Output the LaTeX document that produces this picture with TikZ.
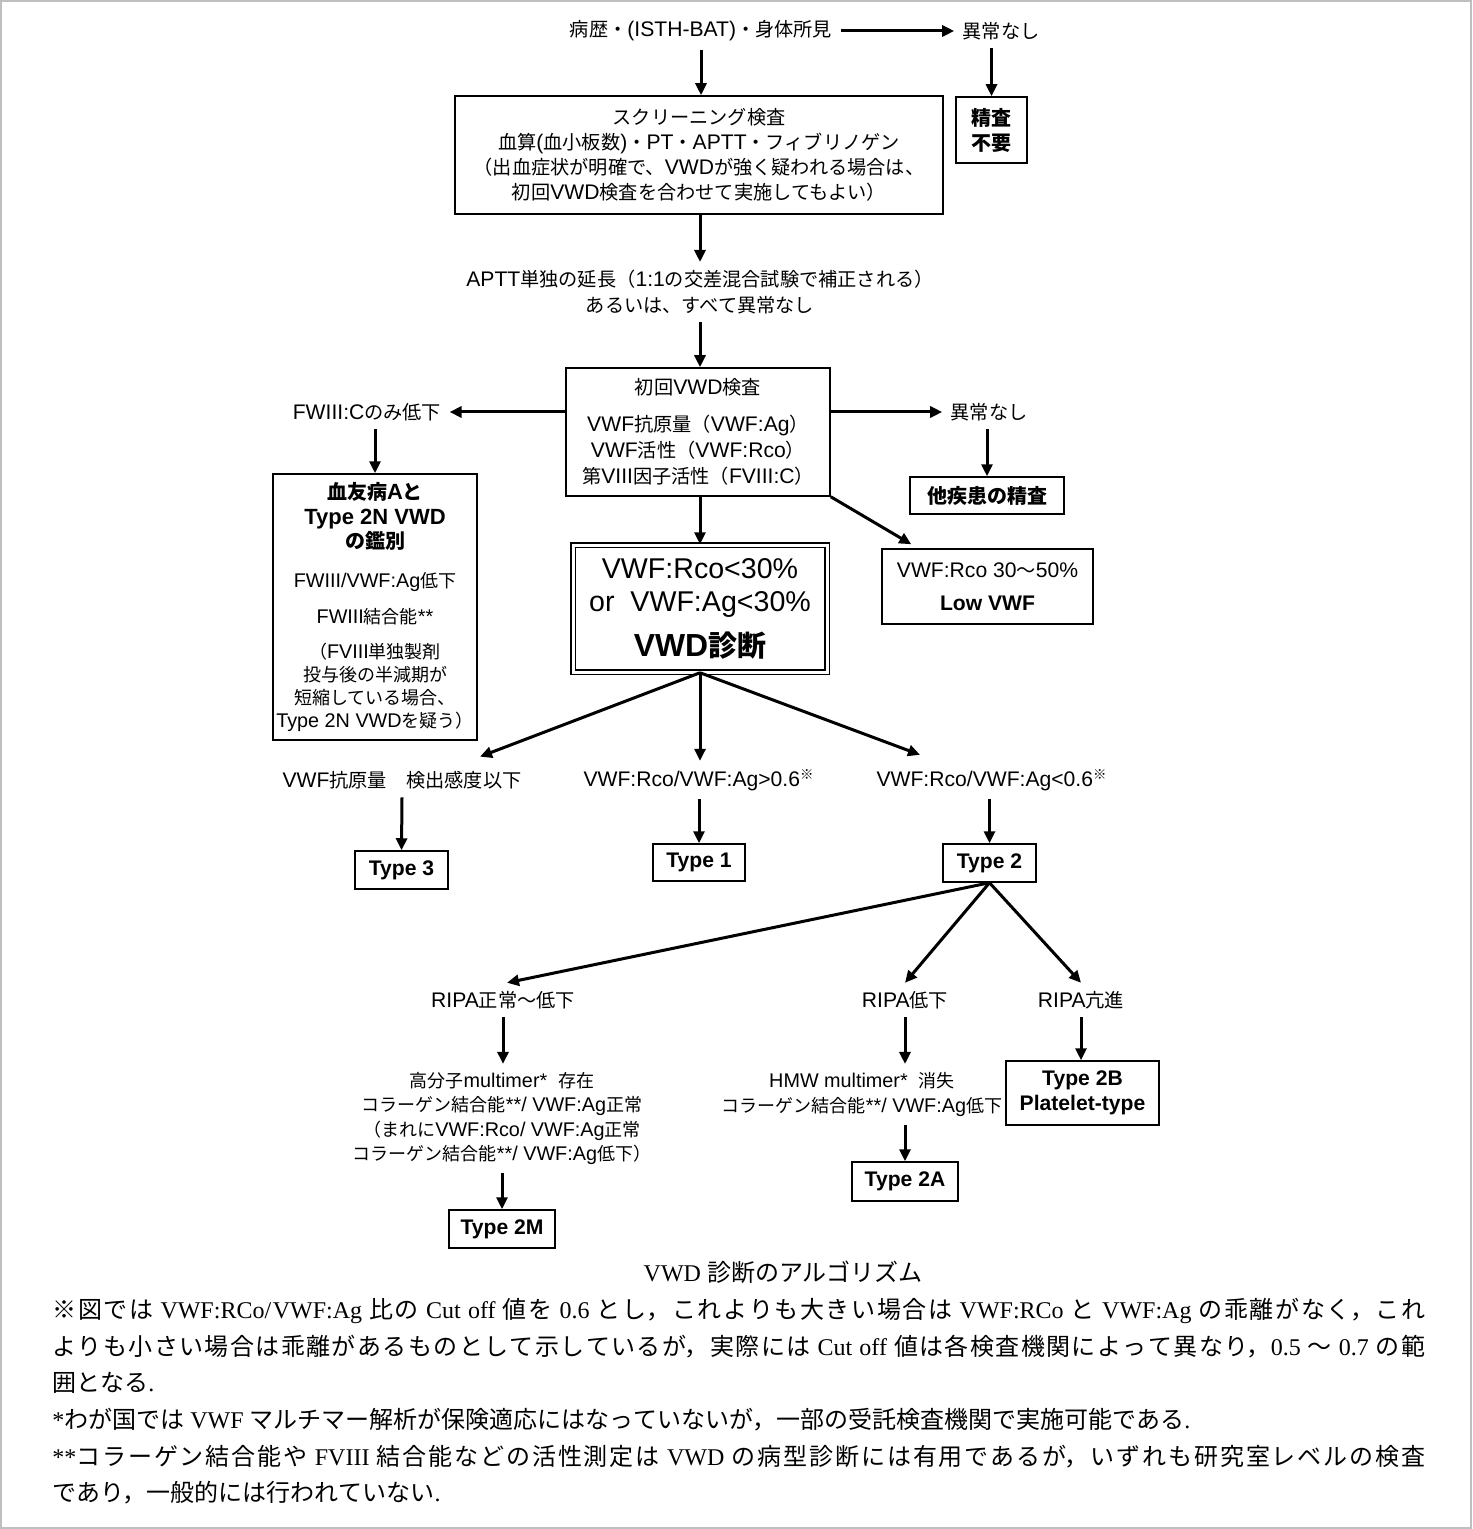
\documentclass[tikz,border=0pt]{standalone}
\usepackage{fontspec}
\setmainfont{Liberation Sans}[Scale=1.1]
\newfontfamily\latinfam{Liberation Sans}[Scale=1.1]
\newfontfamily\latinserif{Liberation Serif}
\newfontfamily\cjkfam{Noto Sans CJK JP}
\usetikzlibrary{arrows.meta}
\XeTeXlinebreaklocale "ja"
\XeTeXlinebreakskip=0pt plus 2pt

% Japanese characters in Noto, the rest in the Latin family
\XeTeXinterchartokenstate=1
\newXeTeXintercharclass\jclass
\count255="2E80
\loop\XeTeXcharclass\count255=\jclass\ifnum\count255<"9FFF\advance\count255 by 1\repeat
\count255="FF00
\loop\XeTeXcharclass\count255=\jclass\ifnum\count255<"FFEF\advance\count255 by 1\repeat
\XeTeXcharclass"203B=\jclass
\XeTeXinterchartoks 0 \jclass={\cjkfam}
\XeTeXinterchartoks 4095 \jclass={\cjkfam}
\XeTeXinterchartoks \jclass 0={\latinfam}
\XeTeXinterchartoks \jclass 4095={\latinfam}

\newcommand{\bhead}[1]{{\fontsize{10pt}{12pt}\selectfont\bfseries #1}}

\tikzset{
  flow/.style={-{Triangle[length=6pt,width=5.5pt]}, line width=1.5pt},
  lbl/.style={inner sep=4pt, align=center, font=\fontsize{9.6pt}{12.6pt}\selectfont},
  box/.style={draw, line width=0.75pt, inner sep=0pt, align=center, font=\fontsize{9.6pt}{12.6pt}\selectfont},
  typebox/.style={box, font=\fontsize{9.6pt}{12.5pt}\selectfont\bfseries}
}

\begin{document}
\begin{tikzpicture}[x=0.5pt,y=-0.5pt]
\useasboundingbox (0,0) rectangle (1472,1529);
\draw[black!25, line width=1pt] (1,1) rectangle (1471,1528);

% top row
\node[lbl] (hist) at (701,31) {病歴・(ISTH-BAT)・身体所見};
\node[lbl] (nores1) at (1001,31) {異常なし};
\node[box, minimum width=244pt, minimum height=59pt] (screen) at (699,155) {スクリーニング検査\\血算(血小板数)・PT・APTT・フィブリノゲン\\（出血症状が明確で、VWDが強く疑われる場合は、\\初回VWD検査を合わせて実施してもよい）};
\node[box, minimum width=35.5pt, minimum height=33pt, font=\fontsize{10pt}{12.5pt}\selectfont\bfseries] (noneed) at (991.5,130) {精査\\不要};
\node[lbl] (aptt) at (700,292) {APTT単独の延長（1:1の交差混合試験で補正される）\\あるいは、すべて異常なし};

% first VWD test
\node[box, minimum width=132pt, minimum height=64pt, font=\fontsize{9.6pt}{13pt}\selectfont] (first) at (698,432) {初回VWD検査\\[5.5pt]VWF抗原量（VWF:Ag）\\VWF活性（VWF:Rco）\\第VIII因子活性（FVIII:C）};
\node[lbl] (fviii) at (367,412) {FWIII:Cのみ低下};
\node[lbl] (nores2) at (989,412) {異常なし};
\node[box, minimum width=102pt, minimum height=133pt, font=\fontsize{9pt}{11.35pt}\selectfont] (hemo) at (375,607) {\bhead{血友病Aと}\\[0.9pt]\bhead{Type 2N VWD}\\[0.9pt]\bhead{の鑑別}\\[8.15pt]FWIII/VWF:Ag低下\\[6.65pt]FWIII結合能**\\[6.15pt]（FVIII単独製剤\\投与後の半減期が\\短縮している場合、\\Type 2N VWDを疑う）};
\node[box, minimum width=77pt, minimum height=18.5pt, font=\fontsize{10pt}{12pt}\selectfont\bfseries] (other) at (987,495.5) {他疾患の精査};
\node[box, minimum width=105.5pt, minimum height=37.5pt, font=\fontsize{9.6pt}{16.5pt}\selectfont] (lowvwf) at (987.5,586.5) {VWF:Rco 30～50\%\\{\bfseries Low VWF}};
\node[box, double, double distance=1.5pt, minimum width=127pt, minimum height=63.5pt, font=\fontsize{13pt}{16.5pt}\selectfont] (diag) at (700,608.5) {VWF:Rco<30\%\\or\ \ VWF:Ag<30\%\\[6pt]{\fontsize{14.5pt}{18pt}\selectfont\bfseries VWD診断}};

% types
\node[lbl] (res3) at (402,780) {VWF抗原量　検出感度以下};
\node[lbl] (res1) at (699,780) {VWF:Rco/VWF:Ag>0.6\textsuperscript{※}};
\node[lbl] (res2) at (992,780) {VWF:Rco/VWF:Ag<0.6\textsuperscript{※}};
\node[typebox, minimum width=46.5pt, minimum height=19pt] (t3) at (401.5,870) {Type 3};
\node[typebox, minimum width=46pt, minimum height=18.5pt] (t1) at (699,862.5) {Type 1};
\node[typebox, minimum width=46.5pt, minimum height=19pt] (t2) at (989.5,863) {Type 2};

% type 2 subtypes
\node[lbl] (ripa1) at (503,1000) {RIPA正常～低下};
\node[lbl] (ripa2) at (905,1000) {RIPA低下};
\node[lbl] (ripa3) at (1081,1000) {RIPA亢進};
\node[lbl, font=\fontsize{9pt}{12.2pt}\selectfont] (hmw1) at (502,1118.5) {高分子multimer*\ \ 存在\\コラーゲン結合能**/ VWF:Ag正常\\（まれにVWF:Rco/ VWF:Ag正常\\コラーゲン結合能**/ VWF:Ag低下）};
\node[lbl, font=\fontsize{9pt}{12.5pt}\selectfont] (hmw2) at (862,1094.5) {HMW multimer*\ \ 消失\\コラーゲン結合能**/ VWF:Ag低下};
\node[typebox, minimum width=53pt, minimum height=19pt] (t2m) at (502,1229) {Type 2M};
\node[typebox, minimum width=53pt, minimum height=19.5pt] (t2a) at (905,1181.5) {Type 2A};
\node[typebox, minimum width=76.5pt, minimum height=32pt] (t2b) at (1082.5,1093) {Type 2B\\Platelet-type};

% caption and notes
\node[font=\fontsize{12pt}{14pt}\selectfont\let\latinfam\latinserif\latinfam] (title) at (783,1272) {VWD 診断のアルゴリズム};
\node[anchor=north west, inner sep=0pt, text width=686.5pt, align=justify, font=\fontsize{12pt}{18.3pt}\selectfont\let\latinfam\latinserif\latinfam] (notes) at (52,1298) {\parindent=0pt
※図では VWF:RCo/VWF:Ag 比の Cut off 値を 0.6 とし，これよりも大きい場合は VWF:RCo と VWF:Ag の乖離がなく，これ\linebreak
よりも小さい場合は乖離があるものとして示しているが，実際には Cut off 値は各検査機関によって異なり，0.5 ～ 0.7 の範\linebreak
囲となる.\par
*わが国では VWF マルチマー解析が保険適応にはなっていないが，一部の受託検査機関で実施可能である.\par
**コラーゲン結合能や FVIII 結合能などの活性測定は VWD の病型診断には有用であるが，いずれも研究室レベルの検査\linebreak
であり，一般的には行われていない.};

% connectors
\draw[flow] (hist) -- (nores1);
\draw[flow] (hist.south) -- (hist.south |- screen.north);
\draw[flow] (noneed.north |- nores1.south) -- (noneed.north);
\draw[flow] (aptt.north |- screen.south) -- (aptt.north);
\draw[flow] (aptt.south) -- (aptt.south |- first.north);
\draw[flow] (first.west |- fviii) -- (fviii);
\draw[flow] (first.east |- nores2) -- (nores2);
\draw[flow] (hemo.north |- fviii.south) -- (hemo.north);
\draw[flow] (other.north |- nores2.south) -- (other.north);
\draw[flow] (first.south east) -- ([xshift=15pt,yshift=2pt]lowvwf.north west);
\draw[flow] (diag.north |- first.south) -- (diag.north);
\draw[flow] (diag.south) -- ([xshift=39pt,yshift=3pt]res3.north);
\draw[flow] (diag.south) -- (diag.south |- res1.north);
\draw[flow] (diag.south) -- ([xshift=-36pt,yshift=3pt]res2.north);
\draw[flow] (res3.south) -- (t3.north);
\draw[flow] (res1.south) -- (t1.north);
\draw[flow] (t2.north |- res2.south) -- (t2.north);
\draw[flow] (t2.south) -- ([xshift=2pt]ripa1.north);
\draw[flow] (t2.south) -- (ripa2.north);
\draw[flow] (t2.south) -- (ripa3.north);
\draw[flow] (ripa1.south) -- (ripa1.south |- hmw1.north);
\draw[flow] (ripa2.south) -- (ripa2.south |- hmw2.north);
\draw[flow] (ripa3.south) -- (ripa3.south |- t2b.north);
\draw[flow] (hmw1.south) -- (hmw1.south |- t2m.north);
\draw[flow] (t2a.north |- hmw2.south) -- (t2a.north);
\end{tikzpicture}
\end{document}
